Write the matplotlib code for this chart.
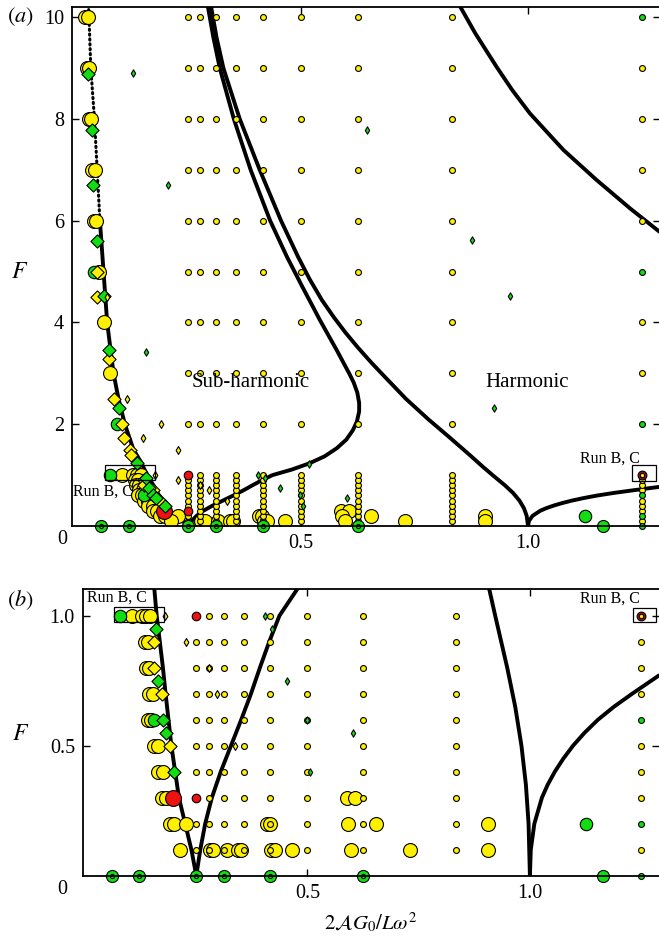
import matplotlib
matplotlib.use('Agg')
import matplotlib.pyplot as plt
from matplotlib.patches import Rectangle

plt.rcParams['font.family'] = 'Liberation Serif'
plt.rcParams['mathtext.fontset'] = 'stix'

YEL = '#fff000'
GRN = '#11dd11'
RED = '#ee1111'

# stability boundaries (sub-harmonic and harmonic tongues)
sub_left_x = [0.25, 0.239, 0.225, 0.211, 0.194, 0.181, 0.175, 0.161, 0.148, 0.131, 0.112, 0.098,
              0.087, 0.073, 0.065, 0.057]
sub_left_F = [0.0, 0.1, 0.2, 0.3, 0.5, 0.7, 0.8, 1.0, 1.25, 1.5, 2.0, 2.5,
              3.0, 4.0, 5.0, 6.0]
sub_top_x = [0.057, 0.051, 0.045, 0.037, 0.033, 0.032]
sub_top_F = [6.0, 7.0, 8.0, 9.0, 10.0, 10.2]
sub_right_x = [0.25, 0.259, 0.27, 0.285, 0.305, 0.328, 0.351, 0.373, 0.393, 0.414, 0.437,
               0.48, 0.518, 0.552, 0.579, 0.600, 0.614, 0.623, 0.628, 0.628, 0.624, 0.616,
               0.606, 0.594, 0.579, 0.542, 0.503, 0.469, 0.432, 0.389, 0.352, 0.321, 0.307, 0.295]
sub_right_F = [0.0, 0.1, 0.2, 0.3, 0.4, 0.5, 0.6, 0.7, 0.8, 0.9, 1.0,
               1.11, 1.23, 1.37, 1.53, 1.70, 1.88, 2.05, 2.25, 2.42, 2.62, 2.82,
               3.0, 3.2, 3.45, 4.04, 4.70, 5.29, 6.0, 7.0, 8.0, 9.0, 9.6, 10.2]
harm_left_x = [1.0, 0.997, 0.991, 0.981, 0.967, 0.949, 0.922, 0.901, 0.871, 0.826, 0.780,
               0.731, 0.688, 0.656, 0.626, 0.598, 0.5725, 0.546, 0.519, 0.4935, 0.456,
               0.409, 0.365, 0.329, 0.314, 0.302]
harm_left_F = [0.0, 0.2, 0.35, 0.5, 0.65, 0.8, 1.0, 1.16, 1.4, 1.75, 2.1,
               2.5, 2.9, 3.2, 3.5, 3.8, 4.1, 4.44, 4.85, 5.29, 6.0,
               7.0, 8.0, 9.0, 9.6, 10.2]
harm_right_x = [1.0, 1.002, 1.01, 1.027, 1.04, 1.056, 1.075, 1.097, 1.123, 1.153, 1.189, 1.23, 1.29]
harm_right_F = [0.0, 0.1, 0.2, 0.3, 0.35, 0.4, 0.45, 0.5, 0.55, 0.6, 0.65, 0.7, 0.77]
harm_upper_x = [0.851, 0.884, 0.931, 0.965, 1.004, 1.078, 1.151, 1.225, 1.29]
harm_upper_F = [10.2, 9.68, 9.02, 8.57, 8.11, 7.39, 6.80, 6.24, 5.78]

# run grid
grid_cols = [0.25, 0.2778, 0.3125, 0.3571, 0.4167, 0.5, 0.625, 0.8333, 1.25]
rows_low = [0.1, 0.2, 0.3, 0.4, 0.5, 0.6, 0.7, 0.8, 0.9, 1.0]
rows_high = [2, 3, 4, 5, 6, 7, 8, 9, 10]

grid_green_x = [1.25, 1.25, 1.25, 1.25, 1.25]
grid_green_F = [10, 5, 2, 0.6, 0.2]
grid_red_x = [0.25, 0.25]
grid_red_F = [1.0, 0.3]
ring_red_x = [1.25]
ring_red_F = [1.0]

big_yel_x = [0.025, 0.031, 0.029, 0.033, 0.033, 0.037, 0.039, 0.046, 0.045, 0.049, 0.054, 0.065, 0.079,
             0.106, 0.129, 0.138, 0.147, 0.134, 0.141, 0.136, 0.144, 0.144, 0.153, 0.141, 0.149,
             0.154, 0.164, 0.164, 0.175, 0.174, 0.183, 0.588, 0.606,
             0.19, 0.201, 0.228, 0.408, 0.415, 0.591, 0.655, 0.905,
             0.213, 0.28, 0.288, 0.318, 0.344, 0.351, 0.419, 0.426, 0.465, 0.597, 0.73, 0.905]
big_yel_F = [10, 10, 9, 9, 8, 8, 7, 7, 6, 6, 5, 4, 3,
             1.0, 1.0, 1.0, 1.0, 0.9, 0.9, 0.8, 0.8, 0.7, 0.7, 0.6, 0.6,
             0.5, 0.5, 0.4, 0.4, 0.3, 0.3, 0.3, 0.3,
             0.2, 0.2, 0.2, 0.2, 0.2, 0.2, 0.2, 0.2,
             0.1, 0.1, 0.1, 0.1, 0.1, 0.1, 0.1, 0.1, 0.1, 0.1, 0.1, 0.1]
big_grn_x = [0.045, 0.094, 0.079, 0.154, 1.126]
big_grn_F = [5.0, 2.0, 1.0, 0.6, 0.2]
red_back_x = [0.133]
red_back_F = [1.0]
red_front_x = [0.198]
red_front_F = [0.3]

dia_yel_x = [0.050, 0.050, 0.078, 0.089, 0.105, 0.110, 0.123, 0.126, 0.154, 0.154, 0.173, 0.19]
dia_yel_F = [4.99, 4.51, 3.29, 2.50, 2.01, 1.72, 1.49, 1.39, 0.9, 0.8, 0.7, 0.5]
dia_grn_x = [0.031, 0.039, 0.041, 0.050, 0.065, 0.076, 0.099, 0.138, 0.159, 0.165, 0.175, 0.181, 0.201]
dia_grn_F = [8.89, 7.79, 6.70, 5.61, 4.53, 3.45, 2.32, 1.23, 0.95, 0.75, 0.6, 0.55, 0.4]

sdia_yel_x = [0.073, 0.116, 0.192, 0.153, 0.228, 0.179, 0.228, 0.2778, 0.297, 0.336]
sdia_yel_F = [4.51, 2.50, 2.01, 1.72, 1.49, 1.0, 0.9, 0.8, 0.7, 0.5]
sdia_grn_x = [0.131, 0.208, 0.645, 0.877, 0.961, 0.158, 0.925, 0.518, 0.405, 0.42, 0.454, 0.498, 0.602, 0.505]
sdia_grn_F = [8.90, 6.70, 7.79, 5.62, 4.52, 3.41, 2.31, 1.21, 1.0, 0.95, 0.75, 0.6, 0.55, 0.4]

# runs on F = 0
ring_x = [0.06, 0.122, 0.25, 0.3125, 0.4167, 0.625]
base_grn_x = [1.165]
base_small_x = [1.25]

# small yellow grid points = every grid node not marked otherwise
special = set(zip(grid_green_x, grid_green_F)) | set(zip(grid_red_x, grid_red_F)) | set(zip(ring_red_x, ring_red_F))
grid_x, grid_F = [], []
for c in grid_cols:
    for r in rows_low + rows_high:
        if (c, r) not in special:
            grid_x.append(c)
            grid_F.append(r)


def draw(ax):
    lw = 2.8
    style = dict(color='k', lw=lw, zorder=2, solid_joinstyle='round', solid_capstyle='round')
    ax.plot(sub_left_x, sub_left_F, **style)
    ax.plot(sub_top_x, sub_top_F, color='k', lw=2.2, ls=(0, (0.4, 1.2)),
            dash_capstyle='round', zorder=2)
    ax.plot(sub_right_x, sub_right_F, **style)
    ax.plot(harm_left_x, harm_left_F, **style)
    ax.plot(harm_right_x, harm_right_F, **style)
    ax.plot(harm_upper_x, harm_upper_F, **style)

    ec = dict(edgecolors='k', linewidths=0.8)
    ax.scatter(red_back_x, red_back_F, s=100, c=RED, zorder=3, **ec)
    ax.scatter(big_yel_x, big_yel_F, s=100, c=YEL, zorder=3, **ec)
    ax.scatter(big_grn_x, big_grn_F, s=80, c=GRN, zorder=4, **ec)
    ax.scatter(red_front_x, red_front_F, s=130, c=RED, zorder=4, **ec)
    ax.scatter(grid_x, grid_F, s=18, c=YEL, zorder=5, **ec)
    ax.scatter(grid_green_x, grid_green_F, s=18, c=GRN, zorder=5, **ec)
    ax.scatter(grid_red_x, grid_red_F, s=38, c=RED, zorder=5, **ec)
    ax.scatter(ring_red_x, ring_red_F, s=40, c='#aa1111', zorder=5, **ec)
    ax.scatter(ring_red_x, ring_red_F, s=10, c=YEL, zorder=6, **ec)
    ax.scatter(dia_yel_x, dia_yel_F, s=45, marker='D', c=YEL, zorder=6, **ec)
    ax.scatter(dia_grn_x, dia_grn_F, s=45, marker='D', c=GRN, zorder=6, **ec)
    ax.scatter(sdia_yel_x, sdia_yel_F, s=16, marker='d', c=YEL, zorder=7, **ec)
    ax.scatter(sdia_grn_x, sdia_grn_F, s=14, marker='d', c=GRN, zorder=7, **ec)

    ax.scatter(ring_x, [0] * len(ring_x), s=75, c=GRN, zorder=6, clip_on=False, **ec)
    ax.scatter(ring_x, [0] * len(ring_x), s=9, c=GRN, zorder=7, clip_on=False, **ec)
    ax.scatter(base_grn_x, [0], s=75, c=GRN, zorder=6, clip_on=False, **ec)
    ax.scatter(base_small_x, [0], s=18, c=GRN, zorder=6, clip_on=False, **ec)

    ax.set_xlim(-0.004, 1.29)
    ax.spines['right'].set_visible(False)
    for s in ['left', 'top', 'bottom']:
        ax.spines[s].set_linewidth(1.3)
        ax.spines[s].set_zorder(8)
    ax.tick_params(direction='in', length=5, width=1, top=True, right=True,
                   labelsize=14.5, pad=6)
    ax.set_xticks([0.5, 1.0])
    ax.set_xticklabels(['0.5', '1.0'])


fig = plt.figure(figsize=(6.59, 9.43), dpi=100)
W, H = 659.0, 943.0

ax_a = fig.add_axes([72.2 / W, (H - 526) / H, 587.5 / W, 519 / H])
draw(ax_a)
ax_a.set_ylim(0, 10.2)
ax_a.set_yticks([2, 4, 6, 8, 10])
ax_a.text(0.389, 2.83, 'Sub-harmonic', fontsize=15, ha='center', va='center', zorder=9)
ax_a.text(0.999, 2.83, 'Harmonic', fontsize=15, ha='center', va='center', zorder=9)
ax_a.add_patch(Rectangle((0.068, 0.90), 0.110, 0.29, fill=False, lw=0.9, zorder=9))
ax_a.add_patch(Rectangle((1.230, 0.885), 0.051, 0.305, fill=False, lw=0.9, zorder=9))
ax_a.text(-0.002, 0.67, 'Run B, C', fontsize=11.5, ha='left', va='center', zorder=9)
ax_a.text(1.247, 1.32, 'Run B, C', fontsize=11.5, ha='right', va='center', zorder=9)

ax_b = fig.add_axes([83.3 / W, (H - 875.7) / H, 575.6 / W, 286.7 / H])
draw(ax_b)
ax_b.set_ylim(0, 1.1027)
ax_b.set_yticks([0.5, 1.0])
ax_b.set_yticklabels(['0.5', '1.0'])
ax_b.add_patch(Rectangle((0.066, 0.977), 0.111, 0.058, fill=False, lw=0.9, zorder=9))
ax_b.add_patch(Rectangle((1.231, 0.975), 0.052, 0.053, fill=False, lw=0.9, zorder=9))
ax_b.text(0.004, 1.068, 'Run B, C', fontsize=11.5, ha='left', va='center', zorder=9)
ax_b.text(1.248, 1.064, 'Run B, C', fontsize=11.5, ha='right', va='center', zorder=9)
ax_b.set_xlabel(r'$2\mathcal{A}G_0/L\omega^2$', fontsize=15, labelpad=6)

# panel letters, origin labels and F labels
fig.text(7 / W, 1 - 16.7 / H, r'$(a)$', fontsize=16, ha='left', va='center')
fig.text(7 / W, 1 - 600 / H, r'$(b)$', fontsize=16, ha='left', va='center')
fig.text(62 / W, 1 - 540 / H, '0', fontsize=14.5, ha='center', va='center')
fig.text(62 / W, 1 - 889 / H, '0', fontsize=14.5, ha='center', va='center')
fig.text(20 / W, 1 - 273 / H, r'$F$', fontsize=17, ha='center', va='center')
fig.text(21 / W, 1 - 734 / H, r'$F$', fontsize=17, ha='center', va='center')

fig.savefig('out.png', dpi=100)
